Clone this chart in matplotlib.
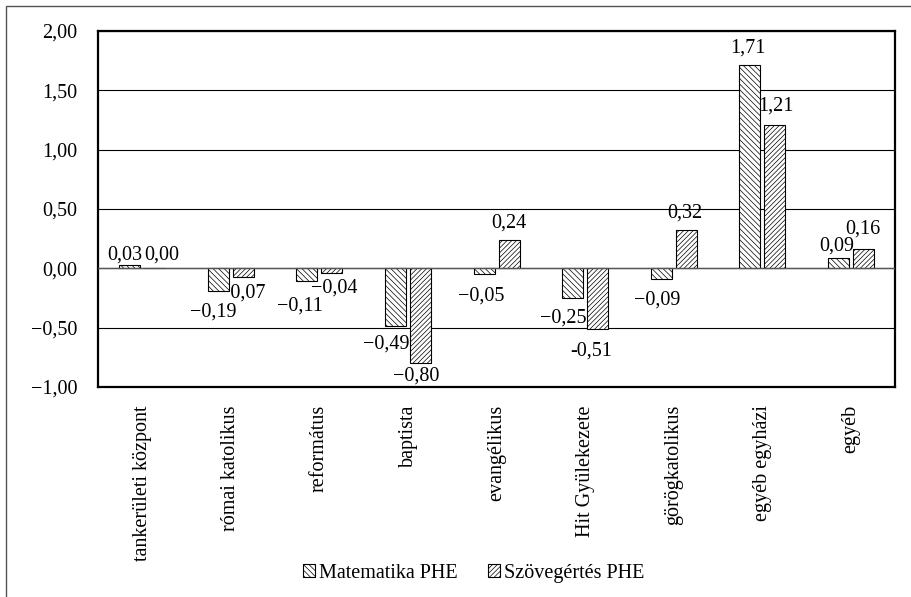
import numpy as np
import matplotlib.pyplot as plt
from matplotlib.patches import Rectangle

# Adatok
categories = ['tankerületi központ', 'római katolikus', 'református', 'baptista',
              'evangélikus', 'Hit Gyülekezete', 'görögkatolikus', 'egyéb egyházi', 'egyéb']
matek = [0.03, -0.19, -0.11, -0.49, -0.05, -0.25, -0.09, 1.71, 0.09]
szoveg = [0.00, -0.07, -0.04, -0.80, 0.24, -0.51, 0.32, 1.21, 0.16]
matek_labels = ['0,03', '\u22120,19', '\u22120,11', '\u22120,49', '\u22120,05',
                '\u22120,25', '\u22120,09', '1,71', '0,09']
szoveg_labels = ['0,00', '\u22120,07', '\u22120,04', '\u22120,80', '0,24',
                 '-0,51', '0,32', '1,21', '0,16']
yticks = [-1.0, -0.5, 0.0, 0.5, 1.0, 1.5, 2.0]
ytick_labels = ['\u22121,00', '\u22120,50', '0,00', '0,50', '1,00', '1,50', '2,00']

# címkék eltolása a hasáb végétől (pixel: dx, dy)
matek_nudge = [(-5, 10), (-5, -21), (-7, -25), (-9, -18), (-3, -22),
               (-9, -20), (-4, -21), (-2, 17), (-2, 12)]
szoveg_nudge = [(7, 13), (-1, -16), (2, -15), (-4, -13), (0, 17),
                (-6, -22), (-1, 17), (1, 19), (0, 20)]

plt.rcParams['font.family'] = ['Liberation Serif', 'DejaVu Serif']
plt.rcParams['hatch.linewidth'] = 0.5
plt.rcParams['hatch.color'] = '#555555'

fig = plt.figure(figsize=(9.12, 5.97), dpi=100)
ax = fig.add_axes([0.1075, 0.3518, 0.874, 0.5963])

# keret a kép körül
fig.patches.append(Rectangle((6 / 912, -0.05), 1.2, 1 - 6 / 597 + 0.05,
                             transform=fig.transFigure, fill=False,
                             edgecolor='#555555', linewidth=1.0))

x = np.arange(len(categories))
w = 0.237
off = 0.141
b1 = ax.bar(x - off, matek, w, facecolor='white', edgecolor='black', linewidth=0.8,
            hatch='\\\\\\\\\\\\', label='Matematika PHE', zorder=3)
b2 = ax.bar(x + off, szoveg, w, facecolor='white', edgecolor='black', linewidth=0.8,
            hatch='///////', label='Szövegértés PHE', zorder=3)

fs = 14.5
px = 0.72  # pixel -> pont
for bars, vals, labs, nud in [(b1, matek, matek_labels, matek_nudge),
                              (b2, szoveg, szoveg_labels, szoveg_nudge)]:
    for r, v, t, (dx, dy) in zip(bars, vals, labs, nud):
        cx = r.get_x() + r.get_width() / 2
        ax.annotate(t, (cx, v), xytext=(dx * px, dy * px), textcoords='offset points',
                    ha='center', va='center', fontsize=fs, zorder=5)

ax.set_ylim(-1.0, 2.0)
ax.set_xlim(-0.5, len(categories) - 0.5)
ax.set_yticks(yticks)
ax.set_yticklabels(ytick_labels, fontsize=fs)
ax.set_xticks(x)
ax.set_xticklabels(categories, rotation=90, fontsize=fs, va='top')
ax.tick_params(axis='y', length=0, pad=15)
ax.tick_params(axis='x', length=0, pad=13)
ax.yaxis.grid(True, color='black', linewidth=0.8, zorder=0)
ax.axhline(0, color='#555555', linewidth=1.0, zorder=4)
for s in ax.spines.values():
    s.set_linewidth(1.6)

fig.legend(handles=[b1, b2], loc='center', bbox_to_anchor=(0.519, 0.040), ncol=2,
           frameon=False, fontsize=fs, handlelength=0.6, handleheight=0.6,
           handletextpad=0.2, columnspacing=1.5)

fig.savefig('out.png', dpi=100)
